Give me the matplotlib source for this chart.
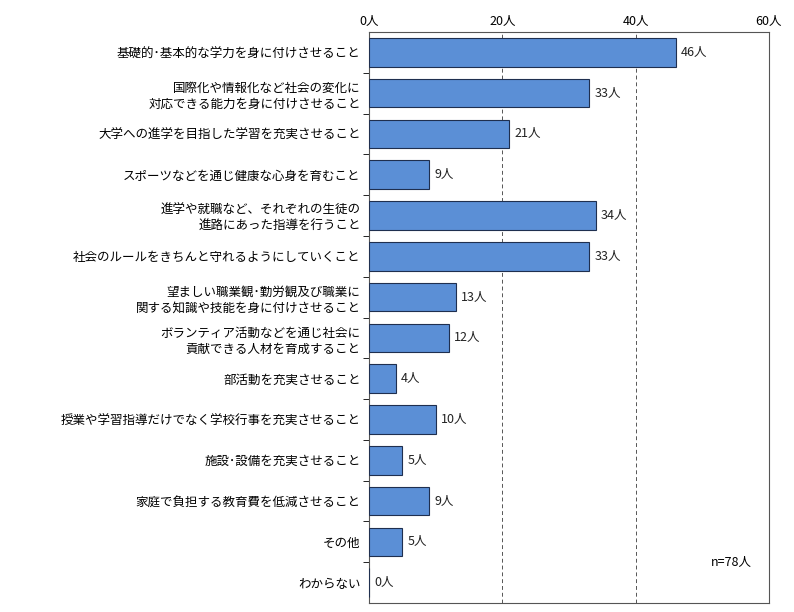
import matplotlib
matplotlib.use("Agg")
import matplotlib.pyplot as plt

plt.rcParams["font.family"] = "Noto Sans CJK JP"

categories = [
    "基礎的･基本的な学力を身に付けさせること",
    "国際化や情報化など社会の変化に\n対応できる能力を身に付けさせること",
    "大学への進学を目指した学習を充実させること",
    "スポーツなどを通じ健康な心身を育むこと",
    "進学や就職など、それぞれの生徒の\n進路にあった指導を行うこと",
    "社会のルールをきちんと守れるようにしていくこと",
    "望ましい職業観･勤労観及び職業に\n関する知識や技能を身に付けさせること",
    "ボランティア活動などを通じ社会に\n貢献できる人材を育成すること",
    "部活動を充実させること",
    "授業や学習指導だけでなく学校行事を充実させること",
    "施設･設備を充実させること",
    "家庭で負担する教育費を低減させること",
    "その他",
    "わからない",
]
values = [46, 33, 21, 9, 34, 33, 13, 12, 4, 10, 5, 9, 5, 0]
ticks = [0, 20, 40, 60]
tick_labels = ["0人", "20人", "40人", "60人"]

fig = plt.figure(figsize=(7.94, 6.12), dpi=100)
ax = fig.add_axes([0.4647, 0.0147, 0.5038, 0.933])
y = list(range(len(categories)))
ax.barh(y, values, height=0.7, color="#5B8FD6", edgecolor="#1F2F4F", linewidth=0.8, zorder=3)
for yi, v in zip(y, values):
    ax.text(v + 0.8, yi, f"{v}人", va="center", ha="left", fontsize=9, color="#222222", zorder=4)
ax.set_xlim(0, 60)
ax.set_ylim(len(categories) - 0.5, -0.5)
ax.set_xticks(ticks)
ax.set_xticklabels(tick_labels, fontsize=9)
ax.xaxis.tick_top()
ax.tick_params(axis="x", length=0, pad=3)
ax.set_yticks(y)
ax.set_yticklabels(categories, fontsize=9, linespacing=1.3)
ax.tick_params(axis="y", length=4, direction="out", pad=6)
ax.set_yticks([i + 0.5 for i in y[:-1]], minor=True)
ax.tick_params(axis="y", which="minor", length=4)
ax.tick_params(axis="y", which="major", length=0)
for gx in [20, 40]:
    ax.axvline(gx, color="#555555", linestyle=(0, (4, 3)), linewidth=0.7, zorder=1)
for s in ax.spines.values():
    s.set_color("#555555")
    s.set_linewidth(0.8)
ax.text(57.5, 12.5, "n=78人", ha="right", va="center", fontsize=9)
fig.savefig("out.png", dpi=100)
